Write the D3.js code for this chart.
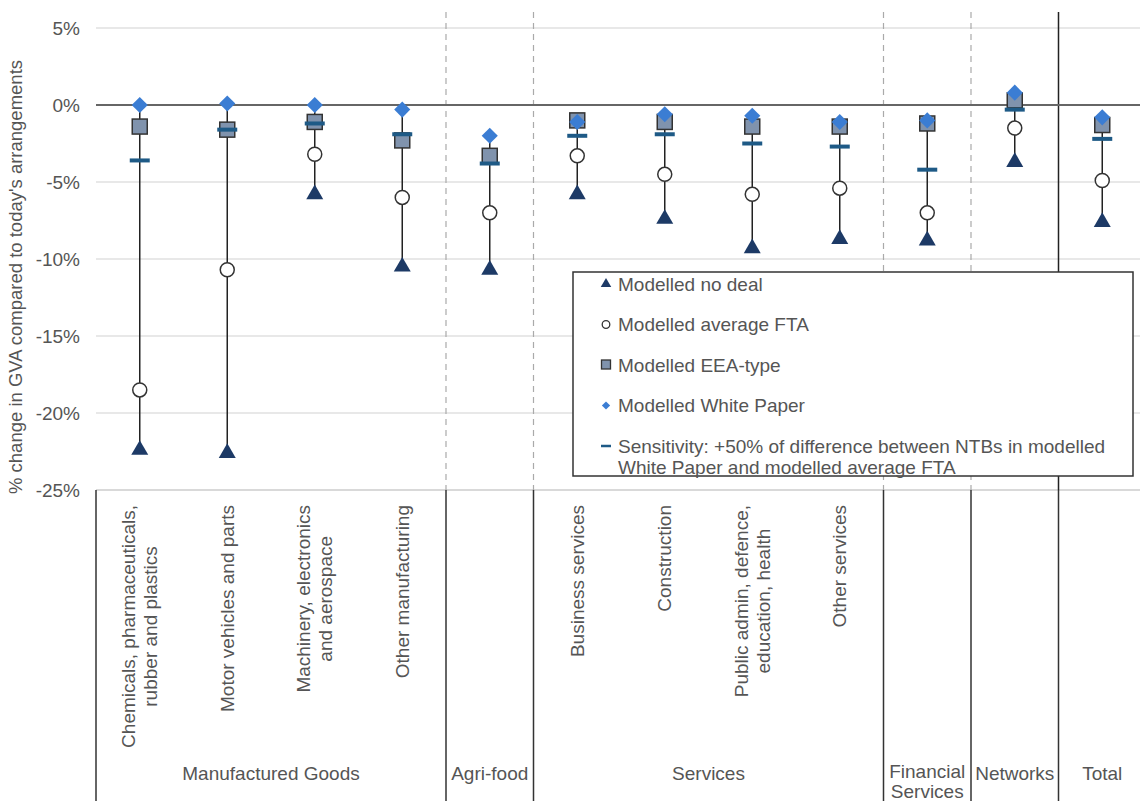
<!DOCTYPE html>
<meta charset="utf-8">
<script src="https://d3js.org/d3.v7.min.js"></script>
<style>
  body { margin: 0; background: #fff; }
  text { font-family: "Liberation Sans", Arial, sans-serif; fill: #555; }
</style>
<div id="vis"></div>
<script>
    // Sector categories (line breaks marked with |) and the group each belongs to
    var categories = ["Chemicals, pharmaceuticals,|rubber and plastics", "Motor vehicles and parts",
        "Machinery, electronics|and aerospace", "Other manufacturing", "Agri-food",
        "Business services", "Construction", "Public admin, defence,|education, health", "Other services",
        "Financial Services", "Networks", "Total"]
    var groupNames = ["Manufactured Goods", "Agri-food", "Services", "Financial|Services", "Networks", "Total"]
    var groupSizes = [4, 1, 4, 1, 1, 1]

    // % change in GVA
    var noDeal      = [-22.4, -22.6, -5.8, -10.5, -10.7, -5.8, -7.4, -9.3, -8.7, -8.8, -3.7, -7.6]
    var averageFTA  = [-18.5, -10.7, -3.2, -6.0, -7.0, -3.3, -4.5, -5.8, -5.4, -7.0, -1.5, -4.9]
    var eeaType     = [-1.4, -1.6, -1.1, -2.3, -3.3, -1.0, -1.1, -1.4, -1.4, -1.2, 0.3, -1.3]
    var whitePaper  = [0.0, 0.1, 0.0, -0.3, -2.0, -1.1, -0.6, -0.7, -1.1, -1.0, 0.8, -0.8]
    var sensitivity = [-3.6, -1.6, -1.2, -1.9, -3.8, -2.0, -1.9, -2.5, -2.7, -4.2, -0.3, -2.2]

    var yTicks = [5, 0, -5, -10, -15, -20, -25]

    var width = 1140, height = 801
    var plotLeft = 96, plotRight = 1146, plotTop = 12, plotBottom = 490

    var navy = "#1d3a66", squareFill = "#8093ad", diamondBlue = "#3b7dd3", dashBlue = "#1e5a86"

    var svg = d3.select("#vis").append("svg")
        .attr("width", width).attr("height", height)

    var x = d3.scaleBand().domain(categories).range([plotLeft, plotRight])
    var y = d3.scaleLinear().domain([-25, 5]).range([plotBottom, 28])

    // horizontal grid
    svg.append("g")
        .selectAll("line")
        .data(yTicks.filter(function (d) { return d !== 0 }))
        .enter().append("line")
        .attr("x1", plotLeft).attr("x2", width)
        .attr("y1", function (d) { return y(d) }).attr("y2", function (d) { return y(d) })
        .attr("stroke", function (d) { return d === -25 ? "#ccc" : "#e0e0e0" })
        .attr("stroke-width", 1.5)

    // y axis labels
    svg.append("g")
        .attr("transform", "translate(" + plotLeft + ",0)")
        .call(d3.axisLeft(y).tickValues(yTicks).tickFormat(function (d) { return d + "%" }).tickSize(0).tickPadding(16))
        .call(function (g) { g.select(".domain").remove() })
        .selectAll("text")
        .style("font-size", "19px")
        .style("font-family", "'Liberation Sans', Arial, sans-serif")
        .attr("fill", "#555")

    // y axis title
    svg.append("text")
        .attr("transform", "translate(22,277) rotate(-90)")
        .style("text-anchor", "middle")
        .style("font-size", "18.5px")
        .text("% change in GVA compared to today's arrangements")

    // group separators
    var boundaries = []
    var acc = 0
    groupSizes.forEach(function (n, i) {
        acc += n
        if (i < groupSizes.length - 1) boundaries.push({ idx: acc, solid: i === groupSizes.length - 2 })
    })
    var step = x.step()
    function boundaryX(b) { return plotLeft + b.idx * step }

    svg.append("g")
        .selectAll("line")
        .data(boundaries)
        .enter().append("line")
        .attr("x1", boundaryX).attr("x2", boundaryX)
        .attr("y1", plotTop).attr("y2", plotBottom)
        .attr("stroke", function (b) { return b.solid ? "#222" : "#aaa" })
        .attr("stroke-width", function (b) { return b.solid ? 1.5 : 1.2 })
        .attr("stroke-dasharray", function (b) { return b.solid ? null : "6,5" })

    // zero line
    svg.append("line")
        .attr("x1", plotLeft).attr("x2", width)
        .attr("y1", y(0)).attr("y2", y(0))
        .attr("stroke", "#666").attr("stroke-width", 2)

    // bottom category area separators
    var sepX = [plotLeft].concat(boundaries.map(boundaryX))
    svg.append("g")
        .selectAll("line")
        .data(sepX)
        .enter().append("line")
        .attr("x1", function (d) { return d }).attr("x2", function (d) { return d })
        .attr("y1", plotBottom).attr("y2", height)
        .attr("stroke", "#333").attr("stroke-width", 1.5)

    // one row per category
    var rows = categories.map(function (c, i) {
        return { cat: c, noDeal: noDeal[i], fta: averageFTA[i], eea: eeaType[i], wp: whitePaper[i], sens: sensitivity[i] }
    })
    function cx(d) { return x(d.cat) + x.bandwidth() / 2 }

    var marks = svg.append("g")

    // stems
    marks.selectAll(".stem")
        .data(rows)
        .enter().append("line")
        .attr("x1", cx).attr("x2", cx)
        .attr("y1", function (d) { return y(Math.max(d.noDeal, d.fta, d.eea, d.wp, d.sens)) })
        .attr("y2", function (d) { return y(Math.min(d.noDeal, d.fta, d.eea, d.wp, d.sens)) })
        .attr("stroke", "#222").attr("stroke-width", 1.5)

    var triangle = d3.symbol().type(d3.symbolTriangle).size(125)
    var diamond = d3.symbol().type(d3.symbolSquare).size(130)

    // no deal triangles
    marks.selectAll(".tri")
        .data(rows)
        .enter().append("path")
        .attr("d", triangle)
        .attr("transform", function (d) { return "translate(" + cx(d) + "," + y(d.noDeal) + ")" })
        .attr("fill", navy)

    // average FTA circles
    marks.selectAll(".circ")
        .data(rows)
        .enter().append("circle")
        .attr("cx", cx).attr("cy", function (d) { return y(d.fta) })
        .attr("r", 7)
        .attr("fill", "#fff").attr("stroke", "#333").attr("stroke-width", 1.5)

    // EEA-type squares
    marks.selectAll(".sq")
        .data(rows)
        .enter().append("rect")
        .attr("x", function (d) { return cx(d) - 7.5 }).attr("y", function (d) { return y(d.eea) - 7.5 })
        .attr("width", 15).attr("height", 15)
        .attr("fill", squareFill).attr("stroke", "#333").attr("stroke-width", 1.5)

    // sensitivity dashes
    marks.selectAll(".dash")
        .data(rows)
        .enter().append("line")
        .attr("x1", function (d) { return cx(d) - 10 }).attr("x2", function (d) { return cx(d) + 10 })
        .attr("y1", function (d) { return y(d.sens) }).attr("y2", function (d) { return y(d.sens) })
        .attr("stroke", dashBlue).attr("stroke-width", 4)

    // White Paper diamonds
    marks.selectAll(".dia")
        .data(rows)
        .enter().append("path")
        .attr("d", diamond)
        .attr("transform", function (d) { return "translate(" + cx(d) + "," + y(d.wp) + ") rotate(45)" })
        .attr("fill", diamondBlue)

    // legend
    var legendItems = [
        { label: ["Modelled no deal"], kind: "tri" },
        { label: ["Modelled average FTA"], kind: "circ" },
        { label: ["Modelled EEA-type"], kind: "sq" },
        { label: ["Modelled White Paper"], kind: "dia" },
        { label: ["Sensitivity: +50% of difference between NTBs in modelled", "White Paper and modelled average FTA"], kind: "dash" }
    ]
    var legend = svg.append("g")
    legend.append("rect")
        .attr("x", 573).attr("y", 272).attr("width", 560).attr("height", 204)
        .attr("fill", "#fff").attr("stroke", "#333").attr("stroke-width", 1.5)

    var li = legend.selectAll(".li")
        .data(legendItems)
        .enter().append("g")
        .attr("transform", function (d, i) { return "translate(606," + (284 + i * 40.5) + ")" })

    li.each(function (d) {
        var g = d3.select(this)
        if (d.kind === "tri") g.append("path").attr("d", d3.symbol().type(d3.symbolTriangle).size(48)).attr("fill", navy)
        if (d.kind === "circ") g.append("circle").attr("r", 3.8).attr("fill", "#fff").attr("stroke", "#333").attr("stroke-width", 1.3)
        if (d.kind === "sq") g.append("rect").attr("x", -4.5).attr("y", -5).attr("width", 9).attr("height", 9)
            .attr("fill", squareFill).attr("stroke", "#333").attr("stroke-width", 1.3)
        if (d.kind === "dia") g.append("path").attr("d", d3.symbol().type(d3.symbolSquare).size(34))
            .attr("transform", "rotate(45)").attr("fill", diamondBlue)
        if (d.kind === "dash") g.append("line").attr("x1", -5).attr("x2", 5).attr("stroke", dashBlue).attr("stroke-width", 2.5)
        d.label.forEach(function (t, k) {
            g.append("text")
                .attr("x", 12).attr("y", k * 21).attr("dy", "0.35em")
                .style("font-size", "19px")
                .text(t)
        })
    })

    // rotated category labels (single-sector groups are named only by their group label)
    var catLabels = svg.append("g")
    categories.forEach(function (c, i) {
        if (c === "Agri-food" || c === "Financial Services" || c === "Networks" || c === "Total") return
        var lines = c.split("|")
        var g = catLabels.append("g")
            .attr("transform", "translate(" + (x(c) + x.bandwidth() / 2) + ",505) rotate(-90)")
        var texts = lines.map(function (t, k) {
            return g.append("text")
                .attr("y", (k - (lines.length - 1) / 2) * 22)
                .attr("dy", "0.35em")
                .style("font-size", "19px")
                .text(t)
        })
        var maxLen = d3.max(texts, function (t) { return t.node().getComputedTextLength() })
        texts.forEach(function (t) {
            t.attr("x", -maxLen / 2).style("text-anchor", "middle")
        })
    })

    // group labels
    var gStart = 0
    groupNames.forEach(function (name, i) {
        var x0 = plotLeft + gStart * step
        var x1 = plotLeft + (gStart + groupSizes[i]) * step
        gStart += groupSizes[i]
        var parts = name.split("|")
        parts.forEach(function (t, k) {
            svg.append("text")
                .attr("x", (x0 + x1) / 2).attr("y", (parts.length > 1 ? 771 : 773) + k * 20).attr("dy", "0.35em")
                .style("text-anchor", "middle")
                .style("font-size", "19px")
                .text(t)
        })
    })
</script>
